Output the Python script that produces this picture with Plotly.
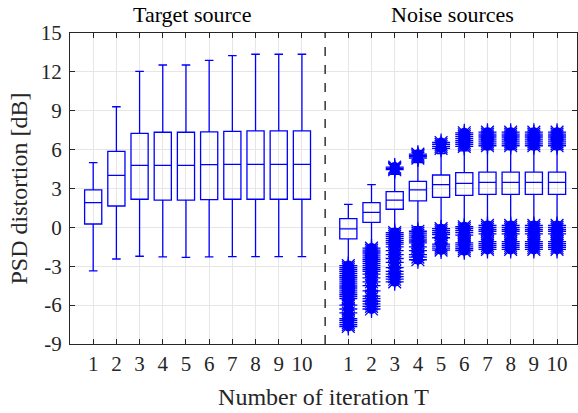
import plotly.graph_objects as go

# ---------------- data ----------------
iter_labels = [str(i) for i in range(1, 11)]
target_pos = [1, 2, 3, 4, 5, 6, 7, 8, 9, 10]
noise_pos = [12, 13, 14, 15, 16, 17, 18, 19, 20, 21]

target_q1 = [0.26, 1.65, 2.17, 2.11, 2.11, 2.14, 2.17, 2.17, 2.17, 2.17]
target_median = [1.91, 4.02, 4.79, 4.79, 4.79, 4.84, 4.86, 4.86, 4.86, 4.86]
target_q3 = [2.89, 5.87, 7.26, 7.34, 7.34, 7.37, 7.41, 7.44, 7.44, 7.44]
target_low = [-3.36, -2.44, -2.23, -2.28, -2.31, -2.28, -2.25, -2.25, -2.25, -2.25]
target_high = [4.99, 9.31, 12.04, 12.53, 12.53, 12.89, 13.25, 13.36, 13.36, 13.36]

noise_q1 = [-0.89, 0.39, 1.40, 2.04, 2.32, 2.47, 2.55, 2.55, 2.55, 2.55]
noise_median = [-0.12, 1.16, 2.11, 2.89, 3.30, 3.40, 3.48, 3.48, 3.48, 3.48]
noise_q3 = [0.68, 1.91, 2.76, 3.55, 4.04, 4.22, 4.27, 4.27, 4.27, 4.27]
noise_low = [-2.7, -1.4, -0.1, 0.05, 0.18, 0.3, 0.4, 0.4, 0.4, 0.4]
noise_high = [1.78, 3.30, 4.1, 5.0, 5.7, 5.9, 6.0, 6.0, 6.0, 6.0]

# outliers of the noise-source boxes (one list per iteration)
noise_outliers = [
    [-2.95, -3.1, -3.25, -3.4, -3.55, -3.7, -3.85, -4.0, -4.15, -4.3, -4.45,
     -4.6, -4.75, -4.9, -5.05, -5.2, -5.35, -5.5, -6.0, -6.3, -6.6, -7.05,
     -7.2, -7.35, -7.5, -7.65],
    [-1.6, -1.75, -1.9, -2.05, -2.2, -2.35, -2.5, -2.65, -2.8, -2.95, -3.1,
     -3.25, -3.4, -3.6, -3.9, -4.2, -4.5, -4.9, -5.3, -5.5, -5.7, -5.9, -6.1,
     -6.3],
    [4.45, 4.55, 4.65, -0.4, -0.55, -0.7, -0.85, -1.0, -1.15, -1.3, -1.5,
     -1.8, -2.1, -2.4, -2.7, -3.1, -3.4, -3.6, -3.8, -4.0, -4.2],
    [5.35, 5.45, 5.55, 5.65, -0.3, -0.45, -0.6, -0.75, -0.9, -1.05, -1.2,
     -1.5, -1.8, -2.1, -2.3, -2.5],
    [6.1, 6.25, 6.4, 6.55, -0.1, -0.25, -0.4, -0.55, -0.8, -1.3, -1.45, -1.6,
     -1.75],
    [6.25, 6.4, 6.55, 6.7, 6.85, 7.0, 7.15, 7.3, 0.05, -0.1, -0.25, -0.4,
     -0.6, -1.2, -1.35, -1.5, -1.65, -1.8],
    [6.3, 6.45, 6.6, 6.75, 6.9, 7.05, 7.2, 7.35, 0.15, 0.0, -0.15, -0.3,
     -0.5, -1.1, -1.25, -1.4, -1.55, -1.7],
    [6.3, 6.45, 6.6, 6.75, 6.9, 7.05, 7.2, 7.35, 0.15, 0.0, -0.15, -0.3,
     -0.5, -1.1, -1.25, -1.4, -1.55, -1.7],
    [6.3, 6.45, 6.6, 6.75, 6.9, 7.05, 7.2, 7.35, 0.15, 0.0, -0.15, -0.3,
     -0.5, -1.1, -1.25, -1.4, -1.55, -1.7],
    [6.3, 6.45, 6.6, 6.75, 6.9, 7.05, 7.2, 7.35, 0.15, 0.0, -0.15, -0.3,
     -0.5, -1.1, -1.25, -1.4, -1.55, -1.7],
]

group_titles = ["Target source", "Noise sources"]
group_title_pos = [5.25, 16.5]
separator_pos = 11

# ---------------- figure ----------------
BLUE = "#0000FF"
FONT = "Liberation Serif"
AX = "#262626"

fig = go.Figure()

fig.add_trace(go.Box(
    x=target_pos + noise_pos,
    q1=target_q1 + noise_q1,
    median=target_median + noise_median,
    q3=target_q3 + noise_q3,
    lowerfence=target_low + noise_low,
    upperfence=target_high + noise_high,
    width=0.74,
    whiskerwidth=0.5,
    boxpoints=False,
    line=dict(color=BLUE, width=1.3),
    fillcolor="rgba(0,0,0,0)",
    showlegend=False,
    hoverinfo="skip",
))

ox, oy = [], []
for p, vals in zip(noise_pos, noise_outliers):
    for v in vals:
        ox.append(p)
        oy.append(v)

# solid core + spiky asterisk rays -> fuzzy "starburst" clusters
fig.add_trace(go.Scatter(
    x=ox, y=oy, mode="markers",
    marker=dict(symbol="circle", size=10, color=BLUE, line=dict(width=0)),
    showlegend=False, hoverinfo="skip",
))
fig.add_trace(go.Scatter(
    x=ox, y=oy, mode="markers",
    marker=dict(symbol="asterisk-open", size=15, color=BLUE,
                line=dict(color=BLUE, width=1.3)),
    showlegend=False, hoverinfo="skip",
))

fig.add_shape(type="line", xref="x", yref="paper",
              x0=separator_pos, x1=separator_pos, y0=0, y1=1,
              line=dict(color="black", width=1.2, dash="dash"))

for t, xp in zip(group_titles, group_title_pos):
    fig.add_annotation(text=t, x=xp, xref="x", y=1, yref="paper",
                       yanchor="bottom", showarrow=False, yshift=4,
                       font=dict(family=FONT, size=22, color="black"))

fig.update_layout(
    width=578, height=413,
    margin=dict(l=70, r=1, t=33, b=69, autoexpand=False),
    paper_bgcolor="white", plot_bgcolor="white",
    font=dict(family=FONT, size=21, color=AX),
)

fig.update_xaxes(
    range=[0, 21.86],
    automargin=False,
    tickvals=target_pos + noise_pos,
    ticktext=iter_labels + iter_labels,
    ticks="inside", ticklen=5, tickcolor=AX,
    showline=True, linecolor=AX, linewidth=1, mirror="ticks",
    showgrid=True, gridcolor="#e6e6e6", gridwidth=1,
    zeroline=False,
    tickfont=dict(family=FONT, size=21, color=AX),
    ticklabelstandoff=1,
    title=dict(text="Number of iteration T",
               font=dict(family=FONT, size=24, color=AX), standoff=12),
)

fig.update_yaxes(
    range=[-9, 15],
    automargin=False,
    tickvals=[-9, -6, -3, 0, 3, 6, 9, 12, 15],
    ticktext=["-9", "-6", "-3", "0", "3", "6", "9", "12", "15"],
    ticks="inside", ticklen=5, tickcolor=AX,
    showline=True, linecolor=AX, linewidth=1, mirror="ticks",
    showgrid=True, gridcolor="#e6e6e6", gridwidth=1,
    zeroline=False,
    tickfont=dict(family=FONT, size=21, color=AX),
    ticklabelstandoff=3,
    title=dict(text="PSD distortion [dB]",
               font=dict(family=FONT, size=24, color=AX), standoff=6),
)

fig.write_html("out.html",
               config={"displayModeBar": False, "staticPlot": True},
               post_script="document.body.style.margin='0';"
                           "document.body.style.overflow='hidden';")
